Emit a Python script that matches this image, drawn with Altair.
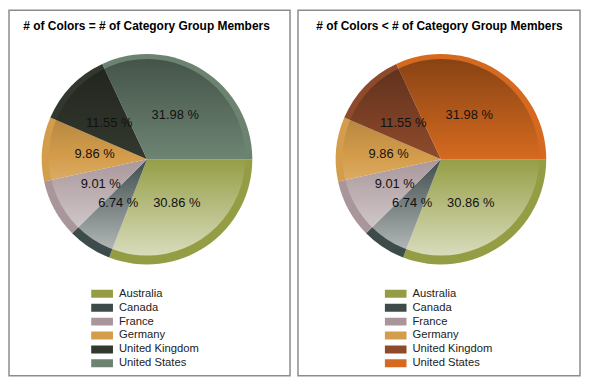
import math
import altair as alt
import pandas as pd

# ---- data ----
countries = ["Australia", "Canada", "France", "Germany", "United Kingdom", "United States"]
shares = [30.86, 6.74, 9.01, 9.86, 11.55, 31.98]
colors_equal = ["#949d44", "#3d4b4a", "#a8969a", "#d49d4b", "#33382e", "#6c8372"]
colors_fewer = ["#949d44", "#3d4b4a", "#a8969a", "#d49d4b", "#8f4a2b", "#d4691f"]
titles = ["# of Colors = # of Category Group Members",
          "# of Colors < # of Category Group Members"]

FONT = "Liberation Sans"
H = 368
R_OUT = 106
R_IN = 99
START = math.pi / 2

df = pd.DataFrame({"country": countries, "share": shares})
face_df = pd.DataFrame({"face": [1]})

face_gradient = alt.Gradient(
    gradient="linear", x1=0, y1=0, x2=0, y2=1,
    stops=[
        alt.GradientStop(color="rgba(0,0,0,0.36)", offset=0),
        alt.GradientStop(color="rgba(0,0,0,0)", offset=0.5),
        alt.GradientStop(color="rgba(255,255,255,0)", offset=0.5),
        alt.GradientStop(color="rgba(255,255,255,0.64)", offset=1),
    ],
)


def panel(title, colors, w, cx, cy, tx, lx):
    theta_scale = alt.Scale(range=[START, START + 2 * math.pi])
    base = alt.Chart(df)
    outer = base.mark_arc(radius=R_OUT).encode(
        theta=alt.Theta("share:Q", stack=True, scale=theta_scale),
        order=alt.Order("country:N"),
        color=alt.Color(
            "country:N",
            scale=alt.Scale(domain=countries, range=colors),
            legend=alt.Legend(
                orient="none", legendX=lx, legendY=278.5, title=None,
                symbolType="M-1,-0.3636H1V0.3636H-1Z", symbolSize=484,
                symbolStrokeWidth=0, symbolOpacity=1, clipHeight=14,
                rowPadding=0, labelOffset=6, padding=0,
                labelFont=FONT, labelFontSize=11.3, labelColor="#222222",
            ),
        ),
        x=alt.value(cx), y=alt.value(cy),
    )
    face = alt.Chart(face_df).mark_arc(
        radius=R_IN, theta=0, theta2=2 * math.pi, fill=face_gradient
    ).encode(x=alt.value(cx), y=alt.value(cy - 2))
    labels = base.transform_calculate(
        label="format(datum.share, '.2f') + ' %'"
    ).mark_text(radius=53, font=FONT, fontSize=13, color="#111111").encode(
        theta=alt.Theta("share:Q", stack=True, scale=theta_scale),
        order=alt.Order("country:N"),
        text="label:N",
        x=alt.value(cx), y=alt.value(cy),
    )
    head = alt.Chart(pd.DataFrame({"t": [title]})).mark_text(
        font=FONT, fontSize=12, fontWeight="bold", color="#000000", baseline="middle"
    ).encode(text="t:N", x=alt.value(tx), y=alt.value(16))
    return alt.layer(outer, face, labels, head).properties(width=w, height=H)


left = panel(titles[0], colors_equal, 283, 139, 150, 138.5, 82.7)
right = panel(titles[1], colors_fewer, 284, 144, 150, 142.5, 87.3)

chart = (
    alt.hconcat(left, right, spacing=6)
    .resolve_scale(color="independent", theta="independent")
    .configure_view(stroke="#8c8c8c", strokeWidth=1.5)
    .properties(padding=0)
)

chart.save("out.html", embed_options={"renderer": "svg", "actions": False})
